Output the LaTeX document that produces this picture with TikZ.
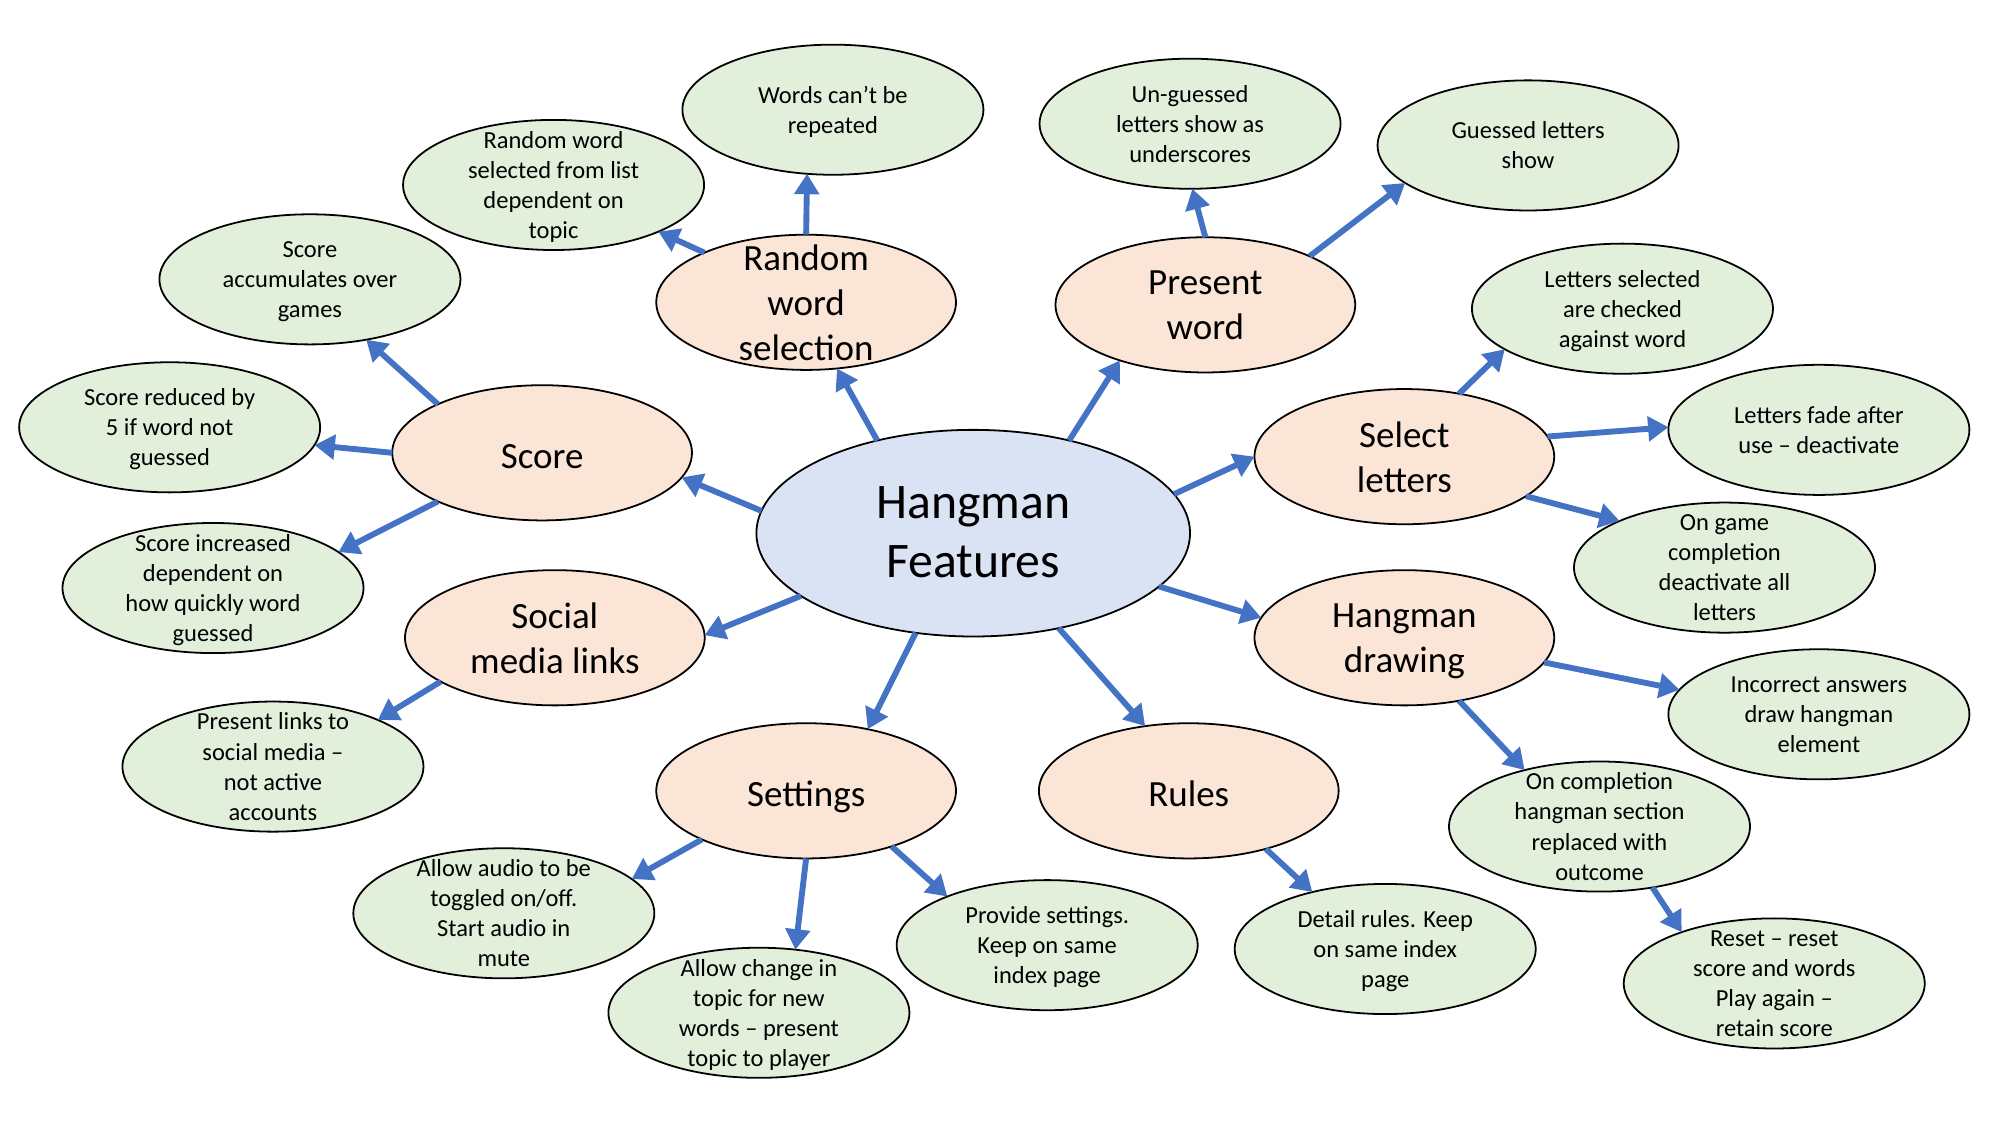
\documentclass[tikz,border=0pt]{standalone}
\usepackage{fontspec}
\setmainfont{Carlito}
\usetikzlibrary{shapes.geometric,arrows.meta}
\definecolor{grfill}{RGB}{226,239,218}
\definecolor{orfill}{RGB}{250,229,214}
\definecolor{blfill}{RGB}{218,227,243}
\definecolor{arrblue}{RGB}{68,114,196}
\tikzset{
  bub/.style={ellipse, draw=black, line width=0.7pt, inner sep=0pt, outer sep=0pt},
  gr/.style={bub, fill=grfill, minimum width=118pt, minimum height=51pt},
  orr/.style={bub, fill=orfill, minimum width=117.5pt, minimum height=53pt},
  cen/.style={bub, fill=blfill, minimum width=170pt, minimum height=81pt},
  lbl/.style={align=center, inner sep=0pt, execute at begin node=\strut, execute at end node=\strut},
  gt/.style={lbl, font=\fontsize{9.6}{11.8}\selectfont, yshift=-1.75pt},
  ot/.style={lbl, font=\fontsize{14.5}{17.5}\selectfont, yshift=-2.8pt},
  ct/.style={lbl, font=\fontsize{19.5}{23}\selectfont, yshift=-3pt},
  arr/.style={draw=arrblue, line width=2.3pt, -{Triangle[length=8pt,width=9.5pt]}}
}
\begin{document}
\begin{tikzpicture}[x=0.5pt,y=-0.5pt]
\useasboundingbox (0,0) rectangle (1568,880);
% centre
\node[cen, label={[ct]center:{Hangman\\Features}}] (hf) at (763,418) {};
% orange
\node[orr, label={[ot]center:{Random\\word\\selection}}] (rw) at (632,237) {};
\node[orr, label={[ot]center:{Present\\word}}] (pw) at (945,239) {};
\node[orr, label={[ot]center:{Score}}] (sc) at (425,355) {};
\node[orr, label={[ot]center:{Select\\letters}}] (sl) at (1101,358) {};
\node[orr, label={[ot]center:{Social\\media links}}] (so) at (435,500) {};
\node[orr, label={[ot]center:{Hangman\\drawing}}] (hd) at (1101,500) {};
\node[orr, label={[ot]center:{Settings}}] (st) at (632,620) {};
\node[orr, label={[ot]center:{Rules}}] (ru) at (932,620) {};
% green
\node[gr, label={[gt]center:{Words can’t be\\repeated}}] (g1) at (653,86) {};
\node[gr, label={[gt]center:{Random word\\selected from list\\dependent on\\topic}}] (g2) at (434,145) {};
\node[gr, label={[gt]center:{Un-guessed\\letters show as\\underscores}}] (g3) at (933,97) {};
\node[gr, label={[gt]center:{Guessed letters\\show}}] (g4) at (1198,114) {};
\node[gr, label={[gt]center:{Score\\accumulates over\\games}}] (g5) at (243,219) {};
\node[gr, label={[gt]center:{Letters selected\\are checked\\against word}}] (g6) at (1272,242) {};
\node[gr, label={[gt]center:{Score reduced by\\5 if word not\\guessed}}] (g7) at (133,335) {};
\node[gr, label={[gt]center:{Letters fade after\\use – deactivate}}] (g8) at (1426,337) {};
\node[gr, label={[gt]center:{Score increased\\dependent on\\how quickly word\\guessed}}] (g9) at (167,461) {};
\node[gr, label={[gt]center:{On game\\completion\\deactivate all\\letters}}] (g10) at (1352,445) {};
\node[gr, label={[gt]center:{Present links to\\social media –\\not active\\accounts}}] (g11) at (214,601) {};
\node[gr, label={[gt]center:{Incorrect answers\\draw hangman\\element}}] (g12) at (1426,560) {};
\node[gr, label={[gt]center:{On completion\\hangman section\\replaced with\\outcome}}] (g13) at (1254,648) {};
\node[gr, label={[gt]center:{Allow audio to be\\toggled on/off.\\Start audio in\\mute}}] (g14) at (395,716) {};
\node[gr, label={[gt]center:{Provide settings.\\Keep on same\\index page}}] (g15) at (821,741) {};
\node[gr, label={[gt]center:{Detail rules. Keep\\on same index\\page}}] (g16) at (1086,744) {};
\node[gr, label={[gt]center:{Allow change in\\topic for new\\words – present\\topic to player}}] (g17) at (595,794) {};
\node[gr, label={[gt]center:{Reset – reset\\score and words\\Play again –\\retain score}}] (g18) at (1391,771) {};
% arrows from centre
\draw[arr] (hf.136) -- (rw.295);
\draw[arr] (hf.44) -- (pw.213);
\draw[arr] (hf.174) -- (sc.350);
\draw[arr] (hf.11) -- (sl.180);
\draw[arr] (hf.200) -- (so.1);
\draw[arr] (hf.344) -- (hd.172);
\draw[arr] (hf.240) -- (st.45);
\draw[arr] (hf.312) -- (ru.124);
% secondary arrows
\draw[arr] (rw.90) -- (g1.248);
\draw[arr] (rw.154) -- (g2.336);
\draw[arr] (pw.90) -- (g3.272);
\draw[arr] (pw.25) -- (g4.197);
\draw[arr] (sc.155) -- (g5.313);
\draw[arr] (sc.180) -- (g7.353);
\draw[arr] (sc.205) -- (g9.16);
\draw[arr] (sl.49) -- (g6.199);
\draw[arr] (sl.8) -- (g8.179);
\draw[arr] (sl.342) -- (g10.156);
\draw[arr] (so.201) -- (g11.24);
\draw[arr] (hd.350) -- (g12.170);
\draw[arr] (hd.311) -- (g13.143);
\draw[arr] (st.205) -- (g14.15);
\draw[arr] (st.270) -- (g17.60);
\draw[arr] (st.327) -- (g15.154);
\draw[arr] (ru.323) -- (g16.142);
\draw[arr] (g13.311) -- (g18.151);
\end{tikzpicture}
\end{document}
